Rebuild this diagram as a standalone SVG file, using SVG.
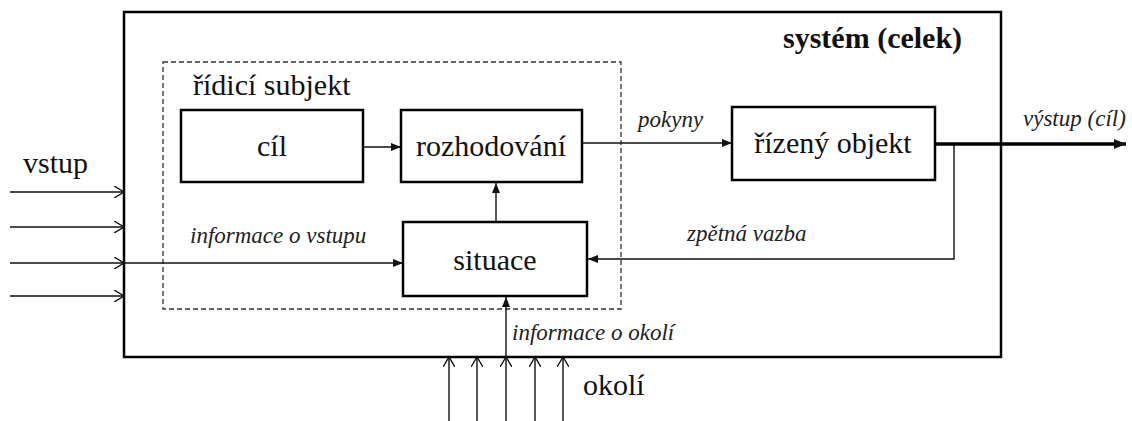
<svg xmlns="http://www.w3.org/2000/svg" width="1132" height="421" viewBox="0 0 1132 421">
<defs>
<style>
.box{fill:#fff;stroke:#000;stroke-width:2.5}
.t{font-family:"Liberation Serif","Times New Roman",serif;font-size:30px;fill:#111}
.it{font-family:"Liberation Serif","Times New Roman",serif;font-style:italic;font-size:23px;fill:#222}
.c{fill:none;stroke:#111;stroke-width:1.4}
</style>
<marker id="arr" viewBox="0 0 10 8" refX="10" refY="4" markerWidth="10" markerHeight="8" markerUnits="userSpaceOnUse" orient="auto">
<path d="M0,0 L10,4 L0,8 Z" fill="#111"/>
</marker>
<marker id="arrB" viewBox="0 0 12 10" refX="12" refY="5" markerWidth="12" markerHeight="10" markerUnits="userSpaceOnUse" orient="auto">
<path d="M0,0 L12,5 L0,10 Z" fill="#111"/>
</marker>
<marker id="open" viewBox="0 0 11 12" refX="10" refY="6" markerWidth="11" markerHeight="12" markerUnits="userSpaceOnUse" orient="auto">
<path d="M0,0 L10,6 L0,12" fill="none" stroke="#111" stroke-width="1.4"/>
</marker>
</defs>
<rect width="1132" height="421" fill="#fff"/>
<g id="system">
<rect x="124" y="12" width="877" height="345" fill="none" stroke="#000" stroke-width="2.5"/>
<text class="t" x="783" y="48" font-weight="bold">systém (celek)</text>
</g>
<g id="ridici-subjekt">
<rect x="163" y="62" width="458" height="247" fill="none" stroke="#333" stroke-width="1.3" stroke-dasharray="5,3"/>
<text class="t" x="193" y="95">řídicí subjekt</text>
</g>
<g id="connectors">
<line class="c" x1="10" y1="192" x2="124" y2="192" marker-end="url(#open)"/>
<line class="c" x1="10" y1="227" x2="124" y2="227" marker-end="url(#open)"/>
<line class="c" x1="10" y1="263" x2="124" y2="263" marker-end="url(#open)"/>
<line class="c" x1="10" y1="296" x2="124" y2="296" marker-end="url(#open)"/>
<line class="c" x1="124" y1="263" x2="403" y2="263" marker-end="url(#arr)"/>
<line class="c" x1="449" y1="421" x2="449" y2="357" marker-end="url(#open)"/>
<line class="c" x1="477" y1="421" x2="477" y2="357" marker-end="url(#open)"/>
<line class="c" x1="506" y1="421" x2="506" y2="357" marker-end="url(#open)"/>
<line class="c" x1="535" y1="421" x2="535" y2="357" marker-end="url(#open)"/>
<line class="c" x1="563" y1="421" x2="563" y2="357" marker-end="url(#open)"/>
<line class="c" x1="506" y1="357" x2="506" y2="297" marker-end="url(#arr)"/>
<line class="c" x1="363" y1="147" x2="401" y2="147" marker-end="url(#arr)"/>
<line class="c" x1="582" y1="143" x2="732" y2="143" marker-end="url(#arr)"/>
<line class="c" x1="496" y1="222" x2="496" y2="183" marker-end="url(#arr)"/>
<polyline class="c" points="954,144 954,259 588,259" marker-end="url(#arr)"/>
<line x1="935" y1="144" x2="1126" y2="144" stroke="#000" stroke-width="3.5" marker-end="url(#arrB)"/>
<text class="it" x="190" y="243">informace o vstupu</text>
<text class="it" x="687" y="241">zpětná vazba</text>
<text class="it" x="512" y="340">informace o okolí</text>
<text class="it" x="638" y="127">pokyny</text>
<text class="it" x="1023" y="126">výstup (cíl)</text>
<text class="t" x="23" y="173">vstup</text>
<text class="t" x="583" y="395">okolí</text>
</g>
<g id="cil">
<rect class="box" x="181" y="110" width="182" height="72"/>
<text class="t" x="272" y="156" text-anchor="middle">cíl</text>
</g>
<g id="rozhodovani">
<rect class="box" x="401" y="110" width="181" height="72"/>
<text class="t" x="491" y="156" text-anchor="middle">rozhodování</text>
</g>
<g id="rizeny-objekt">
<rect class="box" x="732" y="107" width="203" height="73"/>
<text class="t" x="833" y="153" text-anchor="middle">řízený objekt</text>
</g>
<g id="situace">
<rect class="box" x="403" y="222" width="184" height="74"/>
<text class="t" x="495" y="270" text-anchor="middle">situace</text>
</g>
</svg>
